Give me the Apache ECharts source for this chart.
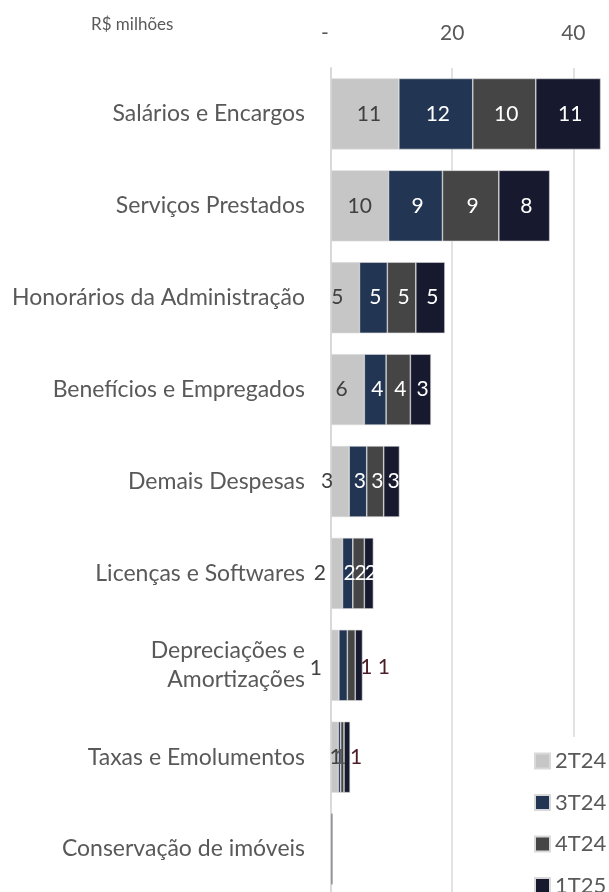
<!DOCTYPE html>
<html>
<head>
<meta charset="utf-8">
<script src="https://cdn.jsdelivr.net/npm/echarts@6/dist/echarts.min.js"></script>
<style>
    html, body { margin: 0; padding: 0; background: #fff; }
    #main { width: 609px; height: 892px; }
</style>
</head>
<body>
<div id="main"></div>
<script>
// dados (R$ milhões)
var categorias = ['Salários e Encargos', 'Serviços Prestados', 'Honorários da Administração',
    'Benefícios e Empregados', 'Demais Despesas', 'Licenças e Softwares',
    'Depreciações e\nAmortizações', 'Taxas e Emolumentos', 'Conservação de imóveis'];
var trimestres = ['2T24', '3T24', '4T24', '1T25'];
var v2T24 = [11.2, 9.5, 4.7, 5.5, 3.0, 1.9, 1.3, 1.2, 0];
var v3T24 = [12.2, 8.9, 4.6, 3.6, 2.9, 1.7, 1.4, 0.4, 0];
var v4T24 = [10.4, 9.3, 4.7, 4.0, 2.8, 1.9, 1.3, 0.55, 0];
var v1T25 = [10.7, 8.4, 4.8, 3.4, 2.6, 1.5, 1.2, 1.0, 0.3];
var xTicks = [0, 20, 40];

var cores = ['#c6c6c6', '#223654', '#454545', '#171a2f'];
var corRotulo = ['#404040', '#ffffff', '#ffffff', '#ffffff'];
var vermelho = '#4b1e27';

// ajustes manuais dos rótulos (serie -> categoria -> label)
var ajustes = {
    0: {
        0: {offset: [4, 0]},
        1: {offset: [0, 0]},
        2: {offset: [-8, 0]},
        3: {offset: [-6, 0]},
        4: {offset: [-13, 0]},
        5: {offset: [-17, 0]},
        6: {offset: [-19, 3]},
        7: {offset: [1, 0]}
    },
    1: {
        6: {show: false},
        7: {show: false}
    },
    2: {
        6: {offset: [15, 2], color: vermelho},
        7: {offset: [-2, 0], color: '#595959'}
    },
    3: {
        6: {offset: [25, 2], color: vermelho},
        7: {offset: [9, 0], color: vermelho}
    }
};

var myChart = echarts.init(document.getElementById('main'));

var valores = [v2T24, v3T24, v4T24, v1T25];
var series = trimestres.map(function (nome, s) {
    return {
        name: nome,
        type: 'bar',
        stack: 'total',
        barWidth: 71,
        itemStyle: {
            color: cores[s],
            borderColor: '#d9d9d9',
            borderWidth: 0.6
        },
        label: {
            show: true,
            position: 'inside',
            offset: [2, 0],
            color: corRotulo[s],
            fontFamily: 'Lato',
            fontSize: 21,
            formatter: function (p) {
                var r = Math.round(p.value);
                return r === 0 ? '' : r;
            }
        },
        data: valores[s].map(function (v, i) {
            var item = {value: v};
            if (ajustes[s] && ajustes[s][i]) {
                item.label = ajustes[s][i];
            }
            return item;
        })
    };
});

myChart.setOption({
    animation: false,
    title: {
        text: 'R$ milhões',
        left: 86,
        top: 11,
        textStyle: {
            fontFamily: 'Lato',
            fontSize: 17,
            fontWeight: 'normal',
            color: '#595959'
        }
    },
    legend: {
        orient: 'vertical',
        left: 528,
        top: 737,
        height: 200,
        padding: [13, 10, 0, 6],
        backgroundColor: '#fff',
        itemWidth: 15,
        itemHeight: 15,
        itemGap: 19.5,
        icon: 'rect',
        data: trimestres,
        textStyle: {
            fontFamily: 'Lato',
            fontSize: 22,
            color: '#595959'
        }
    },
    grid: {
        left: 331,
        top: 68,
        width: 363.5,
        bottom: -3,
        outerBoundsMode: 'none'
    },
    xAxis: {
        type: 'value',
        position: 'top',
        min: 0,
        max: 60,
        interval: 20,
        axisLine: {show: false},
        axisTick: {show: false},
        splitLine: {
            lineStyle: {color: '#d9d9d9', width: 1.5}
        },
        axisLabel: {
            margin: 24,
            fontFamily: 'Lato',
            fontSize: 21,
            color: '#595959',
            formatter: function (v) {
                if (xTicks.indexOf(v) < 0) return '';
                return v === 0 ? '{z|-}' : v;
            },
            rich: {
                z: {fontFamily: 'Lato', fontSize: 21, color: '#595959', padding: [0, 12, 0, 0]}
            }
        }
    },
    yAxis: {
        type: 'category',
        inverse: true,
        data: categorias,
        axisLine: {
            lineStyle: {color: '#d9d9d9', width: 2}
        },
        axisTick: {
            length: 8,
            lineStyle: {color: '#d9d9d9', width: 2}
        },
        axisLabel: {
            margin: 26,
            fontFamily: 'Lato',
            fontSize: 23,
            lineHeight: 29,
            color: '#595959'
        }
    },
    series: series
});
</script>
</body>
</html>
